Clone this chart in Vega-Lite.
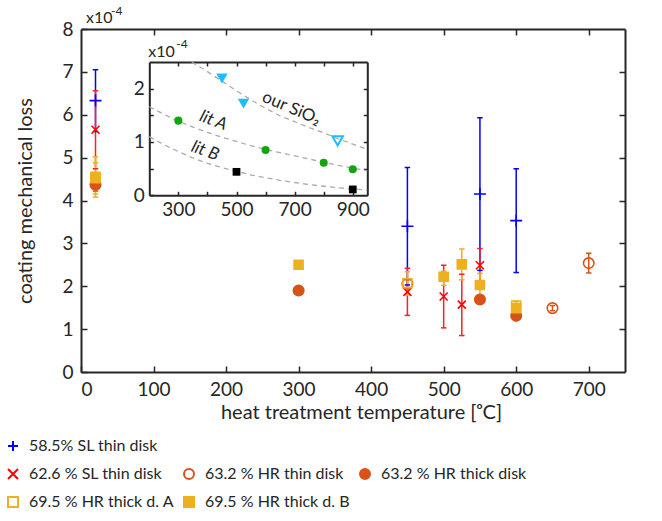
{
  "$schema": "https://vega.github.io/schema/vega-lite/v6.json",
  "width": 544,
  "height": 343,
  "autosize": {"type": "none"},
  "padding": {"left": 81, "top": 29, "right": 37, "bottom": 149},
  "background": "white",
  "config": {
    "font": "Lato",
    "view": {"stroke": null},
    "axis": {
      "grid": false,
      "domainColor": "#262626",
      "domainWidth": 2,
      "tickColor": "#262626",
      "tickWidth": 1.5,
      "labelColor": "#262626",
      "titleColor": "#262626",
      "labelFont": "Lato",
      "titleFont": "Lato",
      "labelFontSize": 19,
      "titleFontSize": 20,
      "titleFontWeight": "normal"
    },
    "text": {"font": "Lato", "color": "#262626"}
  },
  "datasets": {
    "main": [
      {"series": "58.5% SL thin disk", "t": 20, "loss": 6.33, "lo": 5.61, "hi": 7.05},
      {"series": "58.5% SL thin disk", "t": 450, "loss": 3.40, "lo": 2.03, "hi": 4.77},
      {"series": "58.5% SL thin disk", "t": 550, "loss": 4.15, "lo": 2.37, "hi": 5.93},
      {"series": "58.5% SL thin disk", "t": 600, "loss": 3.53, "lo": 2.32, "hi": 4.74},
      {"series": "62.6 % SL thin disk", "t": 20, "loss": 5.65, "lo": 4.74, "hi": 6.56},
      {"series": "62.6 % SL thin disk", "t": 450, "loss": 1.87, "lo": 1.32, "hi": 2.42},
      {"series": "62.6 % SL thin disk", "t": 500, "loss": 1.76, "lo": 1.03, "hi": 2.49},
      {"series": "62.6 % SL thin disk", "t": 525, "loss": 1.57, "lo": 0.85, "hi": 2.28},
      {"series": "62.6 % SL thin disk", "t": 550, "loss": 2.49, "lo": 2.09, "hi": 2.88},
      {"series": "63.2 % HR thin disk", "t": 450, "loss": 2.06, "lo": 1.97, "hi": 2.15},
      {"series": "63.2 % HR thin disk", "t": 650, "loss": 1.49, "lo": 1.43, "hi": 1.55},
      {"series": "63.2 % HR thin disk", "t": 700, "loss": 2.54, "lo": 2.31, "hi": 2.77},
      {"series": "63.2 % HR thick disk", "t": 20, "loss": 4.37, "lo": 4.22, "hi": 4.52},
      {"series": "63.2 % HR thick disk", "t": 300, "loss": 1.90, "lo": 1.88, "hi": 1.92},
      {"series": "63.2 % HR thick disk", "t": 550, "loss": 1.69, "lo": 1.60, "hi": 1.78},
      {"series": "63.2 % HR thick disk", "t": 600, "loss": 1.31, "lo": 1.24, "hi": 1.38},
      {"series": "69.5 % HR thick d. A", "t": 20, "loss": 4.55, "lo": 4.08, "hi": 5.02},
      {"series": "69.5 % HR thick d. A", "t": 450, "loss": 2.07, "lo": 1.80, "hi": 2.34},
      {"series": "69.5 % HR thick d. A", "t": 600, "loss": 1.55, "lo": 1.45, "hi": 1.65},
      {"series": "69.5 % HR thick d. B", "t": 20, "loss": 4.52, "lo": 4.15, "hi": 4.88},
      {"series": "69.5 % HR thick d. B", "t": 300, "loss": 2.50, "lo": 2.46, "hi": 2.54},
      {"series": "69.5 % HR thick d. B", "t": 500, "loss": 2.22, "lo": 2.02, "hi": 2.35},
      {"series": "69.5 % HR thick d. B", "t": 525, "loss": 2.51, "lo": 2.15, "hi": 2.87},
      {"series": "69.5 % HR thick d. B", "t": 550, "loss": 2.03, "lo": 1.76, "hi": 2.30},
      {"series": "69.5 % HR thick d. B", "t": 600, "loss": 1.49, "lo": 1.38, "hi": 1.60}
    ],
    "insetPts": [
      {"kind": "our", "t": 450, "loss": 2.19},
      {"kind": "our", "t": 524, "loss": 1.72},
      {"kind": "ouropen", "t": 848, "loss": 1.02},
      {"kind": "litA", "t": 300, "loss": 1.40},
      {"kind": "litA", "t": 600, "loss": 0.85},
      {"kind": "litA", "t": 800, "loss": 0.61},
      {"kind": "litA", "t": 900, "loss": 0.49},
      {"kind": "litB", "t": 500, "loss": 0.44},
      {"kind": "litB", "t": 900, "loss": 0.11}
    ],
    "curves": [
      {"curve": "our", "t": 346, "loss": 2.50},
      {"curve": "our", "t": 400, "loss": 2.32},
      {"curve": "our", "t": 450, "loss": 2.14},
      {"curve": "our", "t": 500, "loss": 1.96},
      {"curve": "our", "t": 550, "loss": 1.79},
      {"curve": "our", "t": 600, "loss": 1.63},
      {"curve": "our", "t": 650, "loss": 1.49},
      {"curve": "our", "t": 700, "loss": 1.38},
      {"curve": "our", "t": 750, "loss": 1.27},
      {"curve": "our", "t": 800, "loss": 1.17},
      {"curve": "our", "t": 850, "loss": 1.06},
      {"curve": "our", "t": 900, "loss": 0.96},
      {"curve": "our", "t": 950, "loss": 0.86},
      {"curve": "litA", "t": 200, "loss": 1.66},
      {"curve": "litA", "t": 250, "loss": 1.52},
      {"curve": "litA", "t": 300, "loss": 1.39},
      {"curve": "litA", "t": 350, "loss": 1.28},
      {"curve": "litA", "t": 400, "loss": 1.18},
      {"curve": "litA", "t": 450, "loss": 1.09},
      {"curve": "litA", "t": 500, "loss": 1.01},
      {"curve": "litA", "t": 550, "loss": 0.93},
      {"curve": "litA", "t": 600, "loss": 0.86},
      {"curve": "litA", "t": 650, "loss": 0.80},
      {"curve": "litA", "t": 700, "loss": 0.74},
      {"curve": "litA", "t": 750, "loss": 0.68},
      {"curve": "litA", "t": 800, "loss": 0.62},
      {"curve": "litA", "t": 850, "loss": 0.56},
      {"curve": "litA", "t": 900, "loss": 0.51},
      {"curve": "litA", "t": 950, "loss": 0.46},
      {"curve": "litB", "t": 200, "loss": 1.10},
      {"curve": "litB", "t": 250, "loss": 0.95},
      {"curve": "litB", "t": 300, "loss": 0.82},
      {"curve": "litB", "t": 350, "loss": 0.70},
      {"curve": "litB", "t": 400, "loss": 0.60},
      {"curve": "litB", "t": 450, "loss": 0.52},
      {"curve": "litB", "t": 500, "loss": 0.45},
      {"curve": "litB", "t": 550, "loss": 0.38},
      {"curve": "litB", "t": 600, "loss": 0.33},
      {"curve": "litB", "t": 650, "loss": 0.28},
      {"curve": "litB", "t": 700, "loss": 0.24},
      {"curve": "litB", "t": 750, "loss": 0.20},
      {"curve": "litB", "t": 800, "loss": 0.17},
      {"curve": "litB", "t": 850, "loss": 0.14},
      {"curve": "litB", "t": 900, "loss": 0.12},
      {"curve": "litB", "t": 950, "loss": 0.10}
    ]
  },
  "layer": [
    {
      "data": {"name": "main"},
      "mark": {"type": "rule", "strokeWidth": 1.5},
      "encoding": {
        "x": {"field": "t", "type": "quantitative", "scale": {"domain": [0, 750], "nice": false, "zero": false}, "axis": null},
        "y": {"field": "lo", "type": "quantitative", "scale": {"domain": [0, 8], "nice": false, "zero": false}, "axis": null},
        "y2": {"field": "hi"},
        "color": {
          "field": "series", "type": "nominal", "legend": null,
          "scale": {
            "domain": ["58.5% SL thin disk", "62.6 % SL thin disk", "63.2 % HR thin disk", "63.2 % HR thick disk", "69.5 % HR thick d. A", "69.5 % HR thick d. B"],
            "range": ["#0000FF", "#FF2020", "#D95319", "#D95319", "#EDB120", "#EDB120"]
          }
        }
      }
    },
    {
      "data": {"name": "main"},
      "transform": [{"fold": ["lo", "hi"], "as": ["bound", "v"]}],
      "mark": {"type": "point", "shape": "stroke", "size": 30, "strokeWidth": 1.5, "filled": false, "opacity": 1},
      "encoding": {
        "x": {"field": "t", "type": "quantitative", "scale": {"domain": [0, 750], "nice": false, "zero": false}, "axis": null},
        "y": {"field": "v", "type": "quantitative", "scale": {"domain": [0, 8], "nice": false, "zero": false}, "axis": null},
        "color": {"field": "series", "type": "nominal", "legend": null}
      }
    },
    {
      "data": {"name": "main"},
      "mark": {"type": "point", "strokeWidth": 1.6, "opacity": 1},
      "encoding": {
        "x": {
          "field": "t", "type": "quantitative",
          "scale": {"domain": [0, 750], "nice": false, "zero": false},
          "axis": {"orient": "bottom", "values": [0, 100, 200, 300, 400, 500, 600, 700], "tickSize": -6, "labelPadding": 14, "title": "heat treatment temperature [ᵒC]", "titlePadding": 3, "titleX": 280}
        },
        "y": {
          "field": "loss", "type": "quantitative",
          "scale": {"domain": [0, 8], "nice": false, "zero": false},
          "axis": {"orient": "left", "values": [0, 1, 2, 3, 4, 5, 6, 7, 8], "tickSize": -6, "labelPadding": 14, "title": "coating mechanical loss", "titlePadding": 26}
        },
        "shape": {
          "field": "series", "type": "nominal",
          "scale": {
            "domain": ["58.5% SL thin disk", " ", "  ", "62.6 % SL thin disk", "63.2 % HR thin disk", "63.2 % HR thick disk", "69.5 % HR thick d. A", "69.5 % HR thick d. B"],
            "range": ["M-1,0L1,0M0,-1L0,1", "circle", "circle", "M-1,-1L1,1M-1,1L1,-1", "circle", "circle", "square", "square"]
          },
          "legend": {"title": null, "orient": "none", "direction": "horizontal", "legendX": -76, "legendY": 409, "columns": 3, "gridAlign": "each", "labelFontSize": 16, "labelColor": "#262626", "labelFont": "Lato", "symbolSize": 100, "symbolStrokeWidth": 2, "rowPadding": 10, "columnPadding": 6, "labelOffset": 8, "padding": 0}
        },
        "stroke": {
          "field": "series", "type": "nominal",
          "scale": {
            "domain": ["58.5% SL thin disk", " ", "  ", "62.6 % SL thin disk", "63.2 % HR thin disk", "63.2 % HR thick disk", "69.5 % HR thick d. A", "69.5 % HR thick d. B"],
            "range": ["#0000FF", "transparent", "transparent", "#FF0000", "#D95319", "#D95319", "#EDB120", "#EDB120"]
          },
          "legend": {"title": null, "orient": "none", "direction": "horizontal", "legendX": -76, "legendY": 409, "columns": 3, "gridAlign": "each", "labelFontSize": 16, "labelColor": "#262626", "labelFont": "Lato", "symbolSize": 100, "symbolStrokeWidth": 2, "rowPadding": 10, "columnPadding": 6, "labelOffset": 8, "padding": 0}
        },
        "fill": {
          "field": "series", "type": "nominal",
          "scale": {
            "domain": ["58.5% SL thin disk", " ", "  ", "62.6 % SL thin disk", "63.2 % HR thin disk", "63.2 % HR thick disk", "69.5 % HR thick d. A", "69.5 % HR thick d. B"],
            "range": ["transparent", "transparent", "transparent", "transparent", "transparent", "#D95319", "transparent", "#EDB120"]
          },
          "legend": {"title": null, "orient": "none", "direction": "horizontal", "legendX": -76, "legendY": 409, "columns": 3, "gridAlign": "each", "labelFontSize": 16, "labelColor": "#262626", "labelFont": "Lato", "symbolSize": 100, "symbolStrokeWidth": 2, "rowPadding": 10, "columnPadding": 6, "labelOffset": 8, "padding": 0}
        },
        "size": {
          "field": "series", "type": "nominal",
          "scale": {
            "type": "ordinal",
            "domain": ["69.5 % HR thick d. B", "69.5 % HR thick d. A", "63.2 % HR thick disk", "63.2 % HR thin disk", "62.6 % SL thin disk", "58.5% SL thin disk"],
            "range": [81, 81, 110, 110, 64, 144]
          },
          "legend": null
        }
      }
    },
    {
      "data": {"values": [{"t": 0, "loss": 8, "s": "x10"}]},
      "mark": {"type": "text", "align": "left", "baseline": "alphabetic", "dx": 5, "dy": -6, "fontSize": 16},
      "encoding": {
        "x": {"field": "t", "type": "quantitative", "scale": {"domain": [0, 750], "nice": false, "zero": false}, "axis": null},
        "y": {"field": "loss", "type": "quantitative", "scale": {"domain": [0, 8], "nice": false, "zero": false}, "axis": null},
        "text": {"field": "s"}
      }
    },
    {
      "data": {"values": [{"t": 0, "loss": 8, "s": "-4"}]},
      "mark": {"type": "text", "align": "left", "baseline": "alphabetic", "dx": 30, "dy": -14, "fontSize": 12},
      "encoding": {
        "x": {"field": "t", "type": "quantitative", "scale": {"domain": [0, 750], "nice": false, "zero": false}, "axis": null},
        "y": {"field": "loss", "type": "quantitative", "scale": {"domain": [0, 8], "nice": false, "zero": false}, "axis": null},
        "text": {"field": "s"}
      }
    },
    {
      "data": {"name": "main"},
      "mark": {"type": "point", "opacity": 0},
      "encoding": {
        "x": {"field": "t", "type": "quantitative", "scale": {"domain": [0, 750], "nice": false, "zero": false},
              "axis": {"orient": "top", "values": [100, 200, 300, 400, 500, 600, 700], "tickSize": -6, "labels": false, "title": null}},
        "y": {"field": "loss", "type": "quantitative", "scale": {"domain": [0, 8], "nice": false, "zero": false},
              "axis": {"orient": "right", "values": [1, 2, 3, 4, 5, 6, 7], "tickSize": -6, "labels": false, "title": null}}
      }
    },
    {
      "data": {"name": "curves"},
      "mark": {"type": "line", "stroke": "#ABABAB", "strokeWidth": 1.3, "strokeDash": [5, 4]},
      "encoding": {
        "x": {
          "field": "t", "type": "quantitative",
          "scale": {"domain": [200, 950], "range": [68.3, 286.3], "nice": false, "zero": false},
          "axis": {"orient": "bottom", "offset": -176.7, "values": [300, 400, 500, 600, 700, 800, 900], "tickSize": -4, "labelPadding": 9, "labelExpr": "datum.value % 200 == 100 ? datum.label : ''", "title": null}
        },
        "y": {
          "field": "loss", "type": "quantitative",
          "scale": {"domain": [0, 2.5], "range": [166.3, 33], "nice": false, "zero": false},
          "axis": {"orient": "left", "offset": -68.3, "values": [0, 0.5, 1, 1.5, 2], "tickSize": -4, "labelPadding": 9, "labelExpr": "datum.value % 1 == 0 ? format(datum.value, 'd') : ''", "title": null}
        },
        "detail": {"field": "curve"},
        "order": {"field": "t", "type": "quantitative"}
      }
    },
    {
      "data": {"name": "insetPts"},
      "transform": [{"filter": "datum.kind == 'our'"}],
      "mark": {"type": "point", "shape": "triangle-down", "filled": true, "color": "#19BFFF", "opacity": 1, "size": 130},
      "encoding": {
        "x": {"field": "t", "type": "quantitative", "scale": {"domain": [200, 950], "range": [68.3, 286.3], "nice": false, "zero": false}, "axis": null},
        "y": {"field": "loss", "type": "quantitative", "scale": {"domain": [0, 2.5], "range": [166.3, 33], "nice": false, "zero": false}, "axis": null}
      }
    },
    {
      "data": {"name": "insetPts"},
      "transform": [{"filter": "datum.kind == 'ouropen'"}],
      "mark": {"type": "point", "shape": "triangle-down", "filled": false, "stroke": "#19BFFF", "strokeWidth": 2, "opacity": 1, "size": 110},
      "encoding": {
        "x": {"field": "t", "type": "quantitative", "scale": {"domain": [200, 950], "range": [68.3, 286.3], "nice": false, "zero": false}, "axis": null},
        "y": {"field": "loss", "type": "quantitative", "scale": {"domain": [0, 2.5], "range": [166.3, 33], "nice": false, "zero": false}, "axis": null}
      }
    },
    {
      "data": {"name": "insetPts"},
      "transform": [{"filter": "datum.kind == 'litA'"}],
      "mark": {"type": "point", "shape": "circle", "filled": true, "color": "#12A512", "opacity": 1, "size": 65},
      "encoding": {
        "x": {"field": "t", "type": "quantitative", "scale": {"domain": [200, 950], "range": [68.3, 286.3], "nice": false, "zero": false}, "axis": null},
        "y": {"field": "loss", "type": "quantitative", "scale": {"domain": [0, 2.5], "range": [166.3, 33], "nice": false, "zero": false}, "axis": null}
      }
    },
    {
      "data": {"name": "insetPts"},
      "transform": [{"filter": "datum.kind == 'litB'"}],
      "mark": {"type": "point", "shape": "square", "filled": true, "color": "#000000", "opacity": 1, "size": 60},
      "encoding": {
        "x": {"field": "t", "type": "quantitative", "scale": {"domain": [200, 950], "range": [68.3, 286.3], "nice": false, "zero": false}, "axis": null},
        "y": {"field": "loss", "type": "quantitative", "scale": {"domain": [0, 2.5], "range": [166.3, 33], "nice": false, "zero": false}, "axis": null}
      }
    },
    {
      "data": {"values": [{"t": 689, "loss": 1.63, "s": "our SiO₂"}]},
      "mark": {"type": "text", "align": "center", "baseline": "middle", "angle": 23, "fontSize": 17},
      "encoding": {
        "x": {"field": "t", "type": "quantitative", "scale": {"domain": [200, 950], "range": [68.3, 286.3], "nice": false, "zero": false}, "axis": null},
        "y": {"field": "loss", "type": "quantitative", "scale": {"domain": [0, 2.5], "range": [166.3, 33], "nice": false, "zero": false}, "axis": null},
        "text": {"field": "s"}
      }
    },
    {
      "data": {"values": [{"t": 420, "loss": 1.40, "s": "lit A"}, {"t": 392, "loss": 0.83, "s": "lit B"}]},
      "mark": {"type": "text", "align": "center", "baseline": "middle", "angle": 20, "fontSize": 17, "fontStyle": "italic"},
      "encoding": {
        "x": {"field": "t", "type": "quantitative", "scale": {"domain": [200, 950], "range": [68.3, 286.3], "nice": false, "zero": false}, "axis": null},
        "y": {"field": "loss", "type": "quantitative", "scale": {"domain": [0, 2.5], "range": [166.3, 33], "nice": false, "zero": false}, "axis": null},
        "text": {"field": "s"}
      }
    },
    {
      "data": {"values": [{"t": 200, "loss": 2.5, "s": "x10"}]},
      "mark": {"type": "text", "align": "left", "baseline": "alphabetic", "dx": -1, "dy": -5, "fontSize": 16},
      "encoding": {
        "x": {"field": "t", "type": "quantitative", "scale": {"domain": [200, 950], "range": [68.3, 286.3], "nice": false, "zero": false}, "axis": null},
        "y": {"field": "loss", "type": "quantitative", "scale": {"domain": [0, 2.5], "range": [166.3, 33], "nice": false, "zero": false}, "axis": null},
        "text": {"field": "s"}
      }
    },
    {
      "data": {"values": [{"t": 200, "loss": 2.5, "s": "-4"}]},
      "mark": {"type": "text", "align": "left", "baseline": "alphabetic", "dx": 27, "dy": -14, "fontSize": 12},
      "encoding": {
        "x": {"field": "t", "type": "quantitative", "scale": {"domain": [200, 950], "range": [68.3, 286.3], "nice": false, "zero": false}, "axis": null},
        "y": {"field": "loss", "type": "quantitative", "scale": {"domain": [0, 2.5], "range": [166.3, 33], "nice": false, "zero": false}, "axis": null},
        "text": {"field": "s"}
      }
    },
    {
      "data": {"name": "insetPts"},
      "mark": {"type": "point", "opacity": 0},
      "encoding": {
        "x": {"field": "t", "type": "quantitative", "scale": {"domain": [200, 950], "range": [68.3, 286.3], "nice": false, "zero": false},
              "axis": {"orient": "top", "offset": -33, "values": [300, 400, 500, 600, 700, 800, 900], "tickSize": -4, "labels": false, "title": null}},
        "y": {"field": "loss", "type": "quantitative", "scale": {"domain": [0, 2.5], "range": [166.3, 33], "nice": false, "zero": false},
              "axis": {"orient": "right", "offset": -257.7, "values": [0.5, 1, 1.5, 2], "tickSize": -4, "labels": false, "title": null}}
      }
    }
  ],
  "resolve": {"scale": {"x": "independent", "y": "independent"}, "axis": {"x": "independent", "y": "independent"}}
}
